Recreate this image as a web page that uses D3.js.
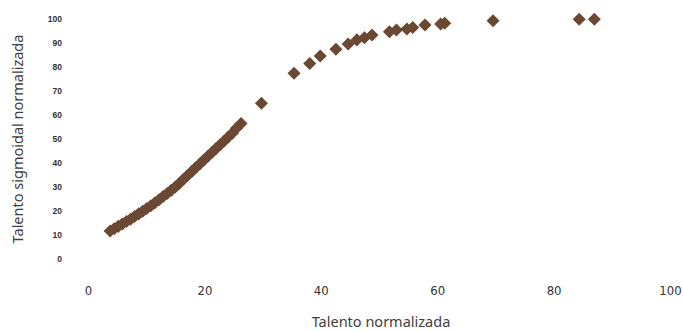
<!DOCTYPE html>
<html>
<head>
<meta charset="utf-8">
<script src="https://cdn.jsdelivr.net/npm/d3@7"></script>
<style>
  body { margin: 0; background: #fff; }
  .ytick text { font-family: "Liberation Sans", Arial, sans-serif; font-size: 8.5px; font-weight: bold; fill: #333; }
  .xtick text { font-family: "Liberation Sans Narrow", "DejaVu Sans Condensed", "Liberation Sans", Arial, sans-serif; font-stretch: condensed; font-size: 13px; fill: #333; }
  .title { font-family: "Noto Sans", "Open Sans", sans-serif; font-size: 14.5px; fill: #404040; }
</style>
</head>
<body>
<div id="chart"></div>
<script>
// talento normalizada (x) vs talento sigmoidal normalizada (y)
var talento = [3.8, 4.5, 5.2, 5.9, 6.6, 7.3, 8.0, 8.7, 9.4, 10.1, 10.8, 11.5, 12.2, 12.9,
  13.6, 14.3, 15.0, 15.7, 16.4, 17.1, 17.8, 18.5, 19.2, 19.9, 20.6, 21.3, 22.0, 22.7,
  23.4, 24.1, 24.8, 25.5, 26.3,
  29.8, 35.4, 38.1, 39.9, 42.6, 44.7, 46.2, 47.5, 48.8, 51.8, 53.0, 54.8, 55.8, 57.9,
  60.6, 61.3, 69.6, 84.4, 87.0];
var sigmoidal = [11.7, 12.6, 13.6, 14.6, 15.6, 16.6, 17.7, 18.8, 19.9, 21.0, 22.2, 23.4, 24.7, 26.0,
  27.3, 28.6, 30.0, 31.6, 33.2, 34.8, 36.4, 38.0, 39.6, 41.2, 42.8, 44.4, 46.0, 47.6,
  49.2, 50.8, 52.4, 54.5, 56.5,
  64.9, 77.4, 81.5, 84.6, 87.4, 89.6, 91.3, 92.2, 93.3, 94.7, 95.4, 95.8, 96.5, 97.5,
  97.9, 98.2, 99.3, 99.9, 99.9];
var xTicks = [0, 20, 40, 60, 80, 100];
var yTicks = [0, 10, 20, 30, 40, 50, 60, 70, 80, 90, 100];

var width = 683, height = 331;
var margin = { top: 19, right: 13, bottom: 72, left: 88 };

var svg = d3.select("#chart").append("svg")
  .attr("width", width)
  .attr("height", height);

var x = d3.scaleLinear().domain([0, 100]).range([margin.left, width - margin.right]);
var y = d3.scaleLinear().domain([0, 100]).range([height - margin.bottom, margin.top]);

// X axis (labels only)
var gx = svg.append("g")
  .attr("class", "xtick")
  .attr("transform", "translate(0," + (height - margin.bottom) + ")")
  .call(d3.axisBottom(x).tickValues(xTicks).tickSize(0).tickPadding(27));
gx.select(".domain").remove();

// Y axis (labels only)
var gy = svg.append("g")
  .attr("class", "ytick")
  .attr("transform", "translate(" + margin.left + ",0)")
  .call(d3.axisLeft(y).tickValues(yTicks).tickSize(0).tickPadding(26));
gy.select(".domain").remove();

// axis titles
svg.append("text")
  .attr("class", "title")
  .attr("text-anchor", "middle")
  .attr("x", 381)
  .attr("y", 327)
  .text("Talento normalizada");

svg.append("text")
  .attr("class", "title")
  .attr("text-anchor", "middle")
  .attr("transform", "translate(23,139) rotate(-90)")
  .text("Talento sigmoidal normalizada");

// diamonds
var diamond = d3.symbol().type(d3.symbolSquare).size(85);
svg.append("g")
  .selectAll("path")
  .data(talento)
  .enter()
  .append("path")
  .attr("d", diamond)
  .attr("transform", function (d, i) {
    return "translate(" + x(d) + "," + y(sigmoidal[i]) + ") rotate(45)";
  })
  .style("fill", "#6b4832");
</script>
</body>
</html>
